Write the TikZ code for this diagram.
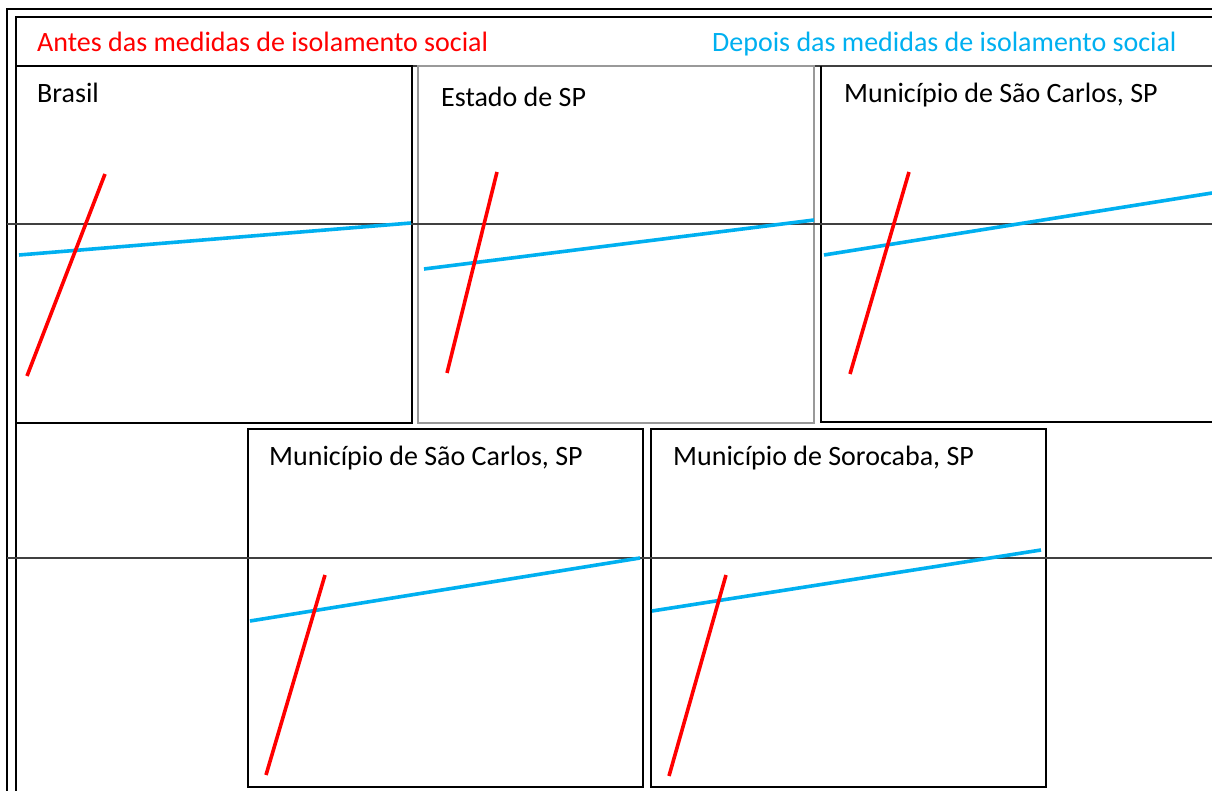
\documentclass[tikz,border=0pt]{standalone}
\usepackage{fontspec}
\setmainfont{Carlito}
\definecolor{lightblue}{RGB}{0,176,240}
\begin{document}
\begin{tikzpicture}[x=1pt,y=-1pt,
  frame/.style={draw=black,line width=2.5pt},
  grayframe/.style={draw=black!40,line width=2.2pt},
  axis/.style={draw=black!75,line width=1.6pt},
  before/.style={draw=red,line width=3.6pt},
  after/.style={draw=lightblue,line width=3.6pt},
  lbl/.style={anchor=base west,inner sep=0pt,font=\fontsize{28}{33}\selectfont}]
\useasboundingbox[fill=white] (0,0) rectangle (1212,791);
% outer frames
\draw[frame] (7,800) -- (7,9) -- (1220,9);
\draw[frame] (16,800) -- (16,17) -- (1220,17);
\draw[draw=black!75,line width=2.2pt] (16,66) -- (1220,66);
% header
\node[lbl,text=red] (antes) at (37,52) {Antes das medidas de isolamento social};
\node[lbl,text=lightblue] (depois) at (712,52) {Depois das medidas de isolamento social};
% top panels
\draw[frame] (16,66) rectangle (412,423);
\draw[grayframe] (418,66) rectangle (814,423);
\draw[frame] (821,66) -- (821,422) -- (1220,422);
% bottom panels
\draw[frame] (248,429) rectangle (643,787);
\draw[frame] (651,429) rectangle (1046,787);
% axes
\draw[axis] (7,224) -- (1212,224);
\draw[axis] (7,558) -- (1212,558);
% labels
\node[lbl] (brasil) at (37,103) {Brasil};
\node[lbl] (estado) at (441,107) {Estado de SP};
\node[lbl] (sc1) at (844,103) {Município de São Carlos, SP};
\node[lbl] (sc2) at (269,465) {Município de São Carlos, SP};
\node[lbl] (soro) at (673,465) {Município de Sorocaba, SP};
% curves
\draw[after] (19,255) -- (411,223);
\draw[before] (27,376) -- (105,174);
\draw[after] (424,269) -- (814,220);
\draw[before] (447,373) -- (497,172);
\draw[after] (824,255) -- (1212,193);
\draw[before] (850,374) -- (909,172);
\draw[after] (250,621) -- (640,558);
\draw[before] (266,775) -- (325,575);
\draw[after] (652,611) -- (1041,550);
\draw[before] (669,776) -- (726,575);
\end{tikzpicture}
\end{document}
